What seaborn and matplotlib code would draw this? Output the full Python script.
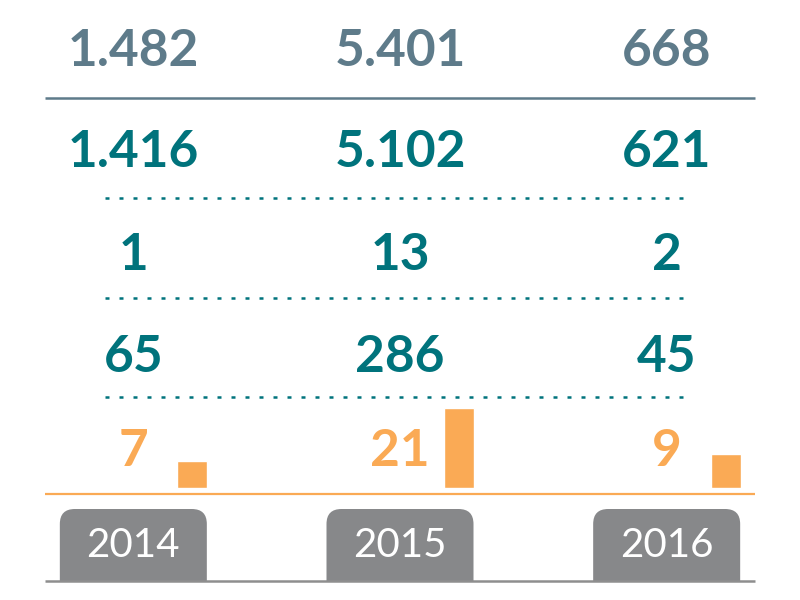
import matplotlib
matplotlib.use("Agg")
import matplotlib.pyplot as plt
from matplotlib.patches import FancyBboxPatch, Rectangle
import seaborn as sns

# data
years = ["2014", "2015", "2016"]
row_total = [1482, 5401, 668]
row_second = [1416, 5102, 621]
row_third = [1, 13, 2]
row_fourth = [65, 286, 45]
row_orange = [7, 21, 9]

# colours
c_slate = "#5E7B8A"
c_teal = "#00737C"
c_orange = "#FAAA55"
c_tab = "#87888A"
c_base = "#8E8E8E"


def fmt(v):
    return f"{v:,}".replace(",", ".")


sns.set_theme(style="white")
plt.rcParams["font.family"] = ["Lato", "DejaVu Sans"]

W, H = 800, 600
fig = plt.figure(figsize=(8, 6), dpi=100)

# main canvas in pixel units
ax = fig.add_axes([0, 0, 1, 1])
ax.set_xlim(0, W)
ax.set_ylim(H, 0)
ax.axis("off")

col_w = W / len(years)
centers = [col_w * (i + 0.5) for i in range(len(years))]

# rows of numbers: (values, colour, baseline)
rows = [
    (row_total, c_slate, 66),
    (row_second, c_teal, 167),
    (row_third, c_teal, 270),
    (row_fourth, c_teal, 372),
    (row_orange, c_orange, 466),
]
for vals, col, base in rows:
    for cx, v in zip(centers, vals):
        ax.text(cx, base, fmt(v), ha="center", va="baseline", color=col,
                fontsize=37, fontweight="bold")

# separators
ax.plot([45, 755], [98, 98], color=c_slate, lw=1.8, solid_capstyle="butt")
for y in [198, 298, 397]:
    ax.plot([105, 690], [y, y], color=c_teal, lw=1.8,
            linestyle=(0, (1.6, 4)), dash_capstyle="butt")
ax.plot([45, 755], [494, 494], color=c_orange, lw=1.6, solid_capstyle="butt")

# year tabs: rounded box running off the bottom, the part below the base
# line is painted over in white
tab_w = 147
for cx, yr in zip(centers, years):
    x0 = cx - tab_w / 2
    ax.add_patch(FancyBboxPatch((x0, 509), tab_w, 120,
                                boxstyle="round,pad=0,rounding_size=15",
                                facecolor=c_tab, edgecolor="none", zorder=1))
    ax.text(cx, 557, yr, ha="center", va="baseline", color="white",
            fontsize=29, fontweight="normal", zorder=3)
ax.add_patch(Rectangle((0, 581), W, 40, facecolor="white", edgecolor="none",
                       zorder=2))
ax.plot([45, 755], [581, 581], color=c_base, lw=1.8, solid_capstyle="butt",
        zorder=3)

# small bars next to the orange numbers
bar_px_per_unit = 3.8
bar_top_px = 395
bar_base_px = 488
shift = 59 / col_w
bax = fig.add_axes([0, (H - bar_base_px) / H, 1, (bar_base_px - bar_top_px) / H])
sns.barplot(x=years, y=row_orange, order=years, color=c_orange,
            saturation=1, width=30 / col_w, ax=bax)
bax.set_xlim(-0.5 - shift, len(years) - 0.5 - shift)
bax.set_ylim(0, (bar_base_px - bar_top_px) / bar_px_per_unit)
bax.patch.set_alpha(0)
bax.axis("off")

fig.savefig("out.png", dpi=100)
